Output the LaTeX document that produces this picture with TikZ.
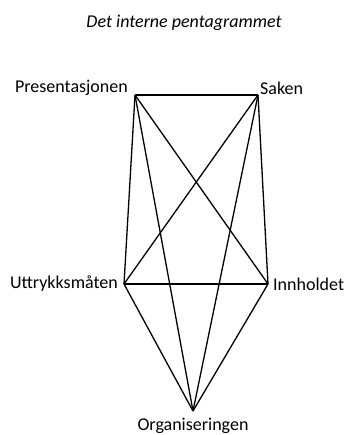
\documentclass[tikz,border=0pt]{standalone}
\usepackage{fontspec}
\setmainfont{Carlito}
\usepackage{tikz}

\begin{document}
\begin{tikzpicture}[x=1pt,y=1pt,yscale=-1,xscale=1]
\useasboundingbox (0,0) rectangle (347,435);
\tikzset{edge/.style={line width=1.3pt,line join=round},
  lbl/.style={inner sep=1pt,font=\fontsize{18}{21}\selectfont}}

%Vertices
\coordinate (pres) at (135,95);
\coordinate (sak) at (258,95);
\coordinate (uttr) at (124,284);
\coordinate (innh) at (268,284);
\coordinate (org) at (193,411);

%Straight Lines
\draw [edge] (pres) -- (sak) ;
\draw [edge] (pres) -- (uttr) ;
\draw [edge] (pres) -- (innh) ;
\draw [edge] (pres) -- (org) ;
\draw [edge] (sak) -- (uttr) ;
\draw [edge] (sak) -- (innh) ;
\draw [edge] (sak) -- (org) ;
\draw [edge] (uttr) -- (innh) ;
\draw [edge] (uttr) -- (org) ;
\draw [edge] (innh) -- (org) ;

% Text Node
\node (title) at (184,23) [lbl] {\itshape Det interne pentagrammet};
% Text Node
\node (presL) at (pres) [lbl,anchor=east,xshift=-6pt,yshift=7pt] {Presentasjonen};
% Text Node
\node (sakL) at (sak) [lbl,anchor=west,xshift=1pt,yshift=7pt] {Saken};
% Text Node
\node (uttrL) at (uttr) [lbl,anchor=east,xshift=-5pt] {Uttrykksmåten};
% Text Node
\node (innhL) at (innh) [lbl,anchor=west,xshift=4pt] {Innholdet};
% Text Node
\node (orgL) at (193,430) [lbl,anchor=base] {Organiseringen};
\end{tikzpicture}
\end{document}
